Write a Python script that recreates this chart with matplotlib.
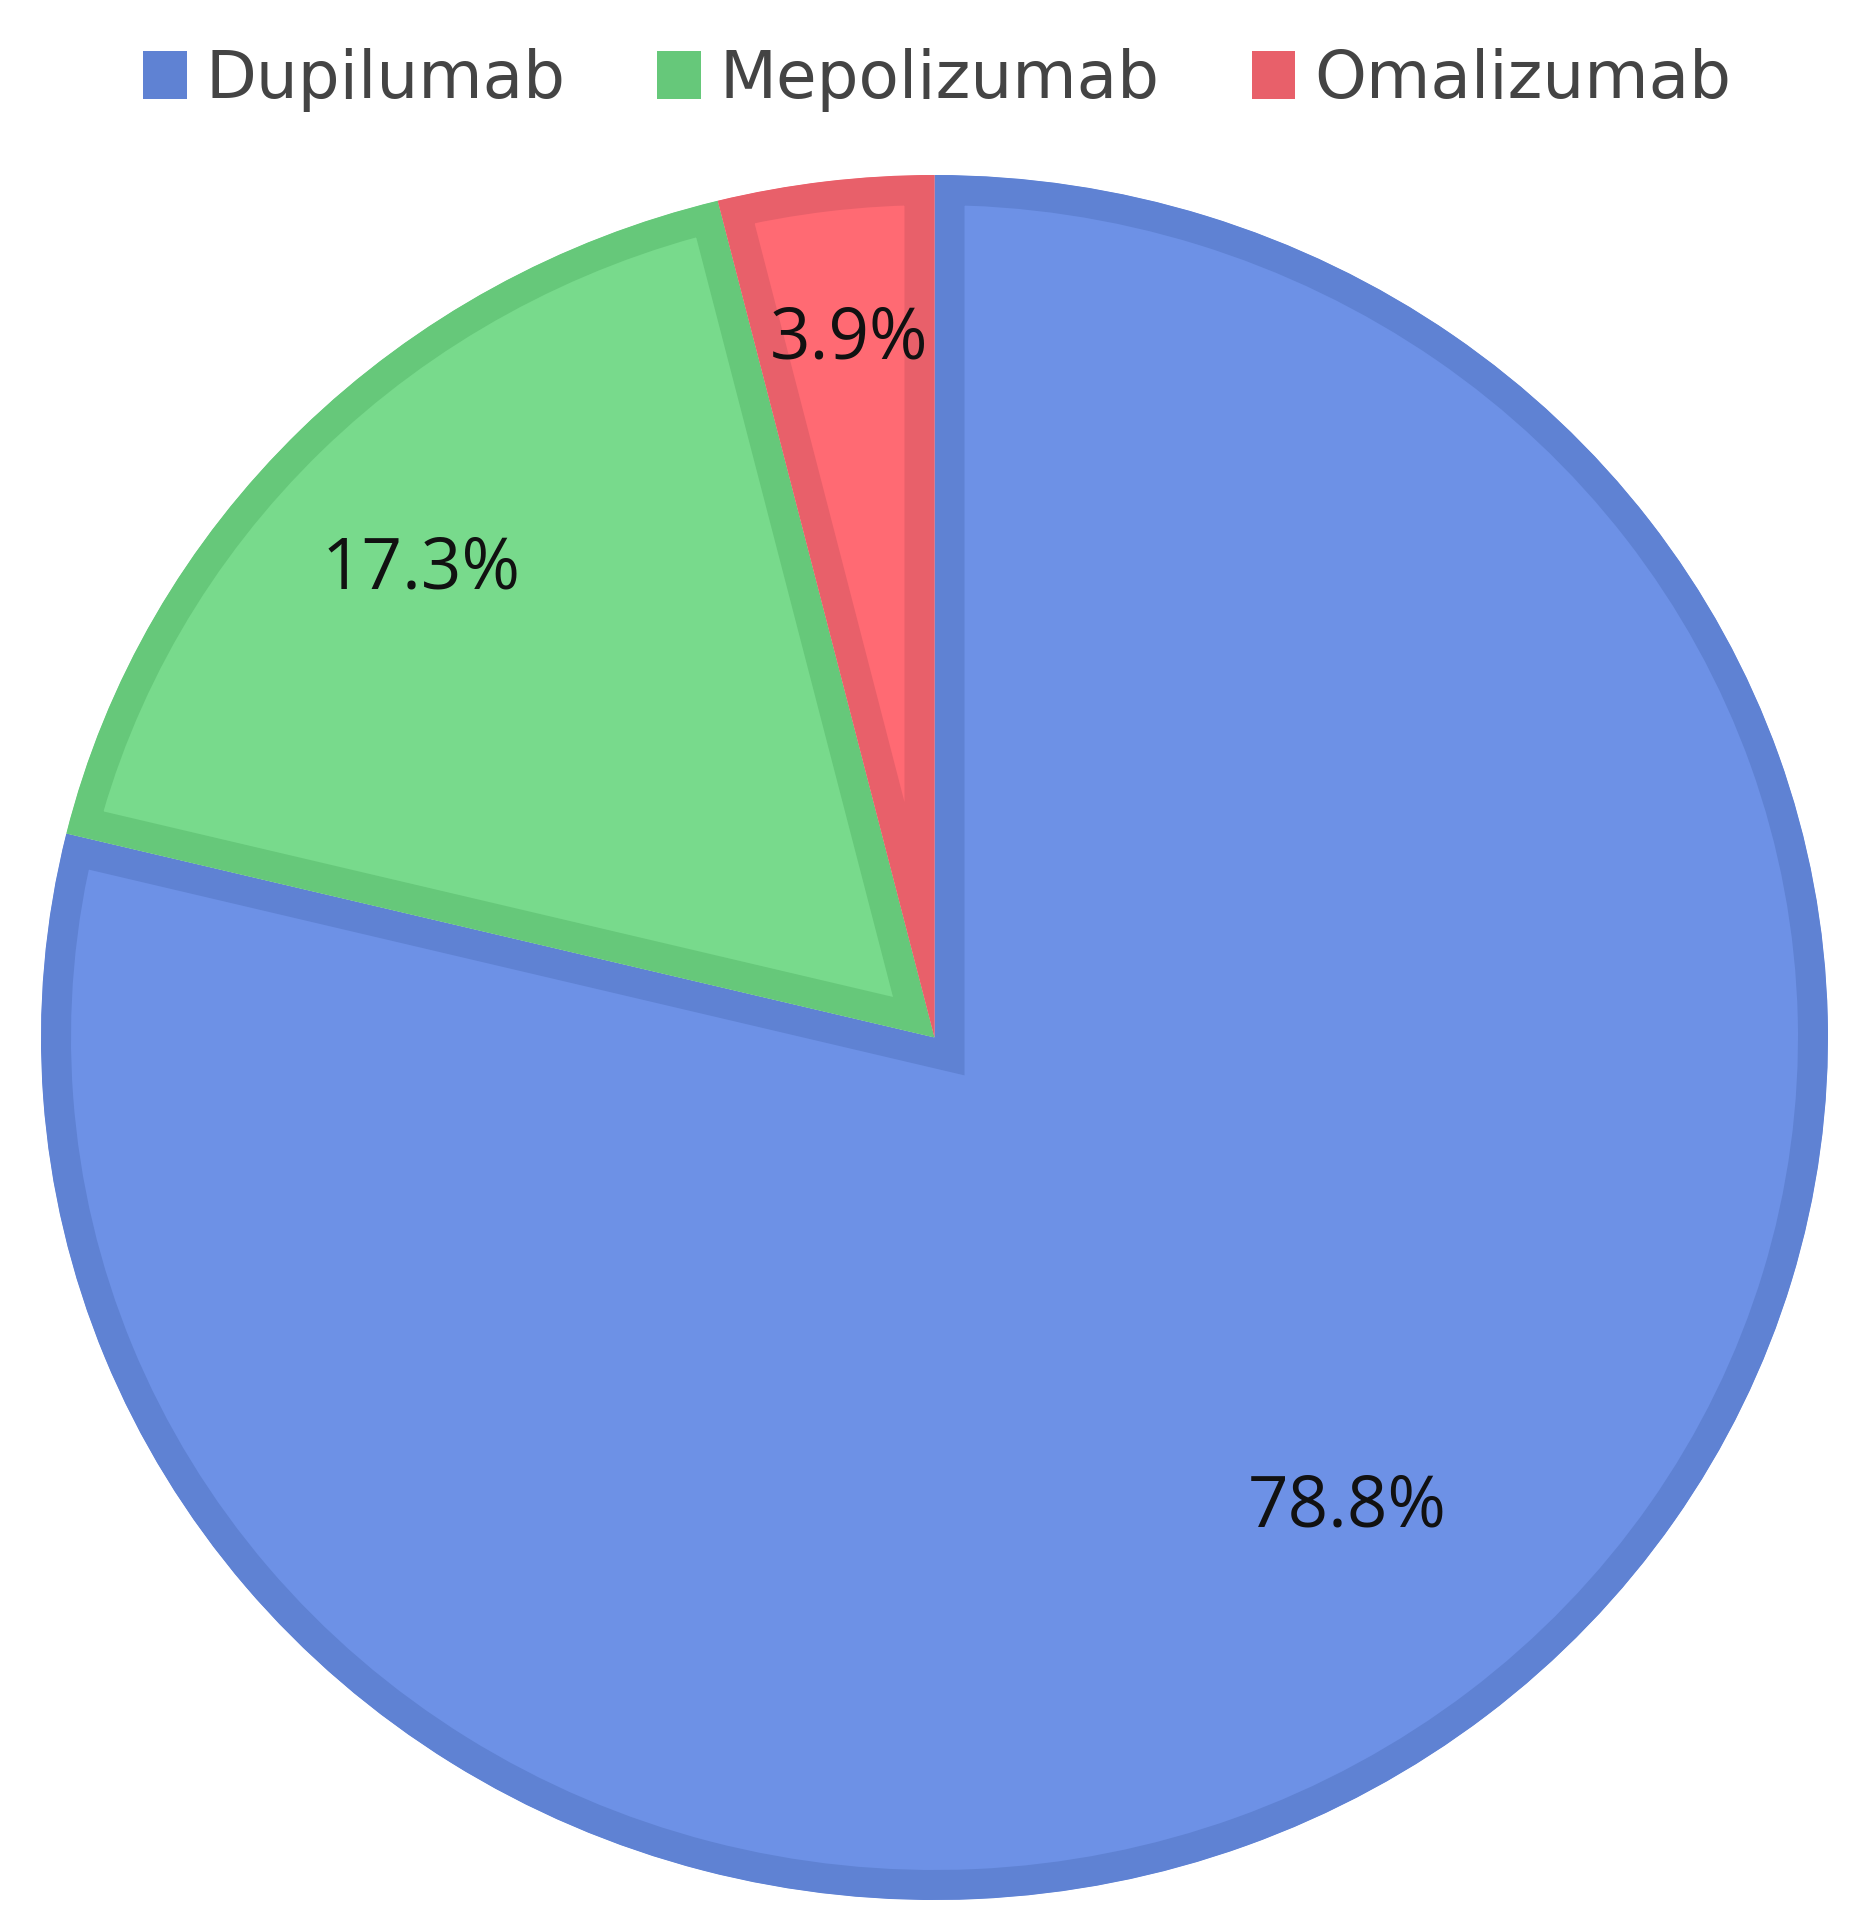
import numpy as np
import matplotlib
matplotlib.use("Agg")
import matplotlib.pyplot as plt
from matplotlib.patches import Patch

labels = ["Dupilumab", "Mepolizumab", "Omalizumab"]
values = [78.8, 17.3, 3.9]
fill_colors = ["#6D91E6", "#78DA8C", "#FF6A73"]
edge_colors = ["#5F82D3", "#66C87A", "#E8606A"]
label_dist = [0.715, 0.79, 0.814]
label_ang_shift = [2.1, 1.5, -0.3]

W, H = 1853, 1928
fig = plt.figure(figsize=(W / 100, H / 100), dpi=100)
fig.patch.set_facecolor("white")

# pie ellipse bounds in pixels (top-origin)
x0, x1, y0, y1 = 41, 1828, 175, 1900
ax = fig.add_axes([x0 / W, (H - y1) / H, (x1 - x0) / W, (y1 - y0) / H])

wedges, _ = ax.pie(values, colors=fill_colors, startangle=90, counterclock=False,
                   wedgeprops=dict(linewidth=0))
ax.set_aspect("auto")
ax.set_xlim(-1, 1)
ax.set_ylim(-1, 1)
ax.axis("off")

border_pt = 60 * 72 / 100  # doubled, clipped to wedge -> ~30px inner border
for w, ec in zip(wedges, edge_colors):
    w.set_edgecolor(ec)
    w.set_linewidth(border_pt)
    w.set_joinstyle("miter")
    w.set_clip_on(True)
    w.set_clip_path(w)

for w, v, d, s in zip(wedges, values, label_dist, label_ang_shift):
    ang = np.deg2rad((w.theta1 + w.theta2) / 2 + s)
    ax.text(d * np.cos(ang), d * np.sin(ang), f"{v}%", ha="center", va="center",
            fontsize=51, color="#111111", family=["Open Sans", "DejaVu Sans"])

handles = [Patch(facecolor=c, edgecolor="none") for c in edge_colors]
fig.legend(handles, labels, loc="center", bbox_to_anchor=(937 / W, 1 - 80 / H),
           ncol=3, frameon=False, prop=dict(family=["DejaVu Sans"], size=47.5),
           labelcolor="#444444", handlelength=0.66, handleheight=0.74,
           handletextpad=0.28, columnspacing=1.4, borderpad=0, borderaxespad=0)

fig.savefig("out.png", dpi=100, facecolor="white")
